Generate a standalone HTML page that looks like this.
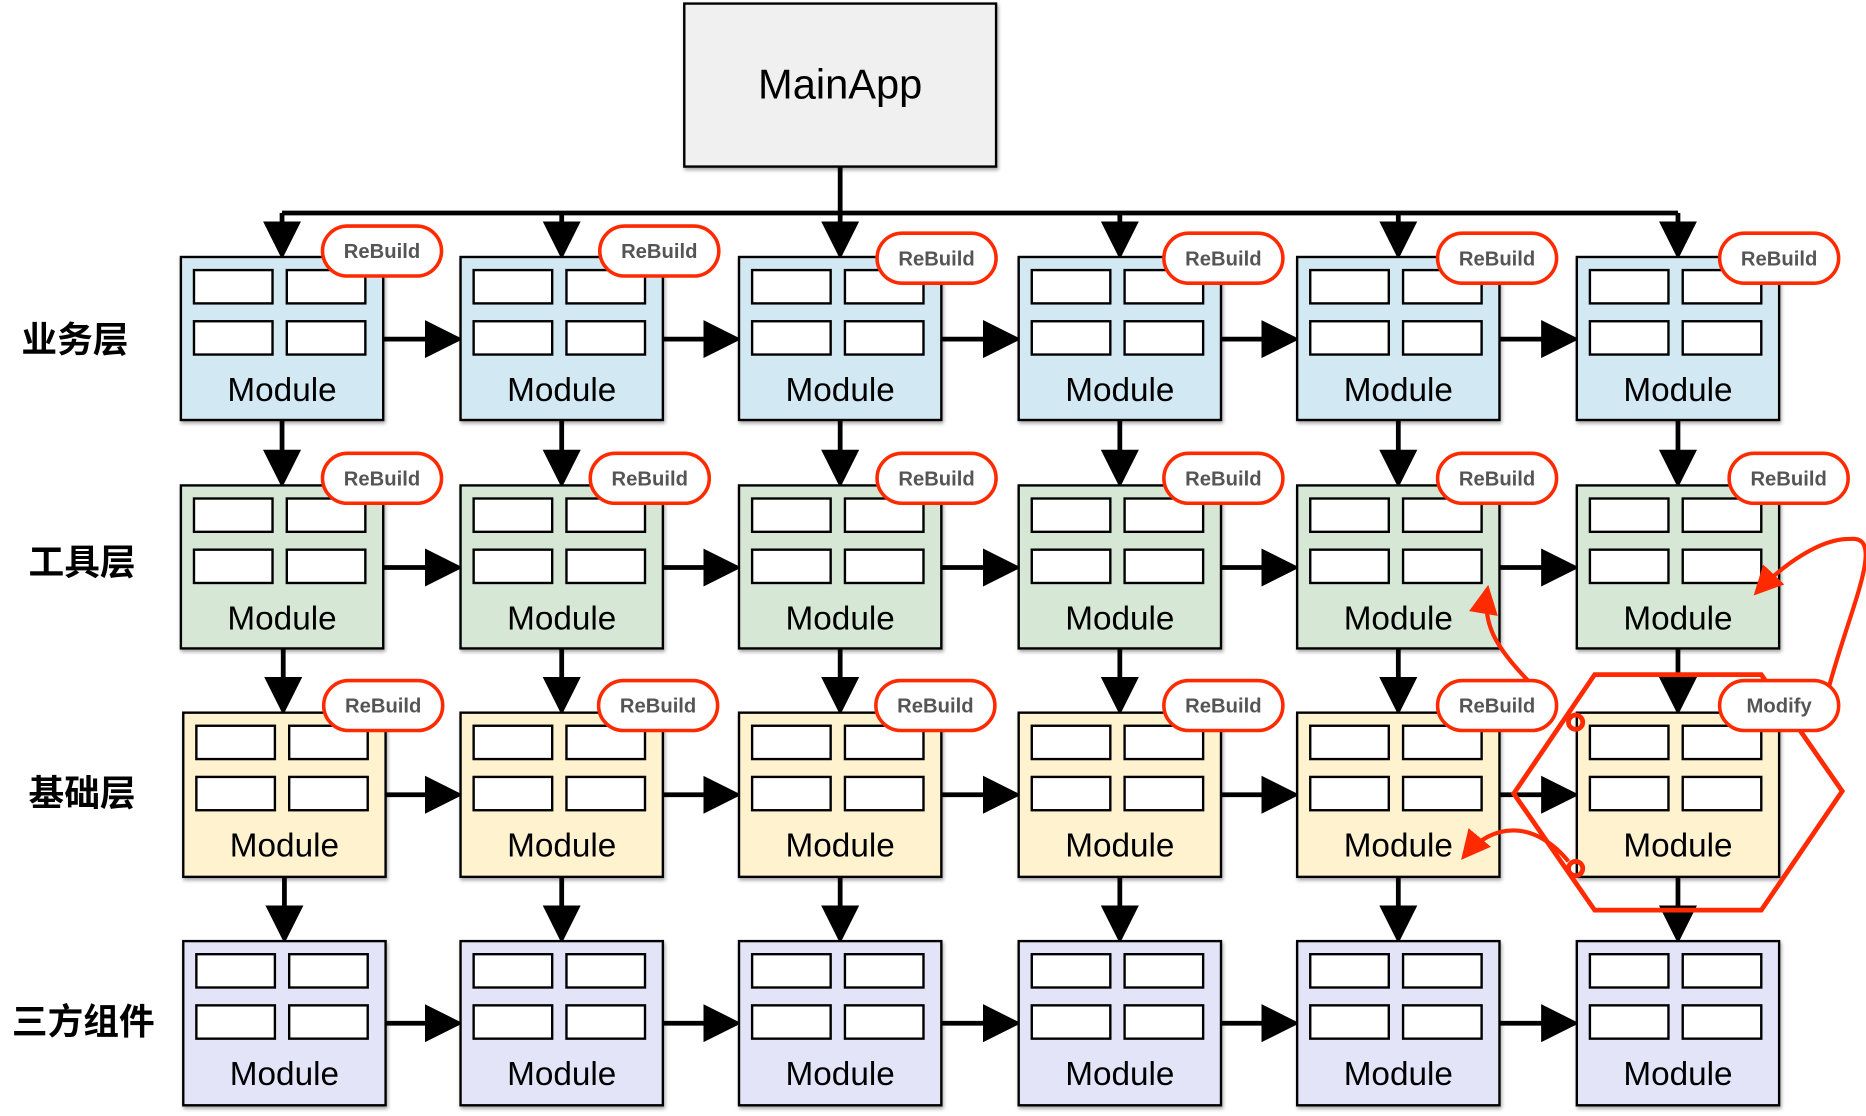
<!DOCTYPE html>
<html><head><meta charset="utf-8"><style>
html,body{margin:0;padding:0;background:#fff;}
svg{display:block;}
.m{font-family:"Liberation Sans",sans-serif;font-size:28px;fill:#000;text-anchor:middle;}
.rb{font-family:"Liberation Sans",sans-serif;font-size:17px;font-weight:bold;fill:#555;text-anchor:middle;}
.lb{font-family:"Liberation Sans","Noto Sans CJK SC",sans-serif;font-size:30px;font-weight:bold;fill:#000;}
</style></head><body>
<svg width="1866" height="1116" viewBox="0 0 1568 938" preserveAspectRatio="none">
<defs>
<marker id="ah" markerWidth="8" markerHeight="8" refX="7" refY="4" orient="auto" markerUnits="strokeWidth">
<path d="M0,0 L8,4 L0,8 z" fill="#000"/></marker>
<marker id="rh" markerWidth="7" markerHeight="7" refX="6" refY="3.5" orient="auto" markerUnits="strokeWidth">
<path d="M0,0 L7,3.5 L0,7 z" fill="#ff2a00"/></marker>
<g id="cells" fill="#fff" stroke="#000" stroke-width="2">
<rect x="11" y="11" width="66" height="28"/><rect x="89" y="11" width="66" height="28"/>
<rect x="11" y="54" width="66" height="28"/><rect x="89" y="54" width="66" height="28"/>
</g>
<filter id="sh"><feDropShadow dx="1" dy="2" stdDeviation="1.5" flood-opacity="0.35"/></filter>
</defs>

<rect x="575" y="3" width="262" height="137" fill="#f0f0f0" stroke="#000" stroke-width="2" filter="url(#sh)"/>
<text x="706" y="83" class="m" style="font-size:35px">MainApp</text>

<g stroke="#000" stroke-width="4" fill="none">
<line x1="706" y1="140" x2="706" y2="179"/>
<line x1="237" y1="179" x2="1410" y2="179"/>
<line x1="237" y1="179" x2="237" y2="214" marker-end="url(#ah)"/>
<line x1="472" y1="179" x2="472" y2="214" marker-end="url(#ah)"/>
<line x1="706" y1="179" x2="706" y2="214" marker-end="url(#ah)"/>
<line x1="941" y1="179" x2="941" y2="214" marker-end="url(#ah)"/>
<line x1="1175" y1="179" x2="1175" y2="214" marker-end="url(#ah)"/>
<line x1="1410" y1="179" x2="1410" y2="214" marker-end="url(#ah)"/>
</g>

<g stroke="#000" stroke-width="4" fill="none">
<line x1="237" y1="353" x2="237" y2="406" marker-end="url(#ah)"/>
<line x1="472" y1="353" x2="472" y2="406" marker-end="url(#ah)"/>
<line x1="706" y1="353" x2="706" y2="406" marker-end="url(#ah)"/>
<line x1="941" y1="353" x2="941" y2="406" marker-end="url(#ah)"/>
<line x1="1175" y1="353" x2="1175" y2="406" marker-end="url(#ah)"/>
<line x1="1410" y1="353" x2="1410" y2="406" marker-end="url(#ah)"/>
<line x1="238" y1="545" x2="238" y2="597" marker-end="url(#ah)"/>
<line x1="472" y1="545" x2="472" y2="597" marker-end="url(#ah)"/>
<line x1="706" y1="545" x2="706" y2="597" marker-end="url(#ah)"/>
<line x1="941" y1="545" x2="941" y2="597" marker-end="url(#ah)"/>
<line x1="1175" y1="545" x2="1175" y2="597" marker-end="url(#ah)"/>
<line x1="1410" y1="545" x2="1410" y2="597" marker-end="url(#ah)"/>
<line x1="239" y1="737" x2="239" y2="789" marker-end="url(#ah)"/>
<line x1="472" y1="737" x2="472" y2="789" marker-end="url(#ah)"/>
<line x1="706" y1="737" x2="706" y2="789" marker-end="url(#ah)"/>
<line x1="941" y1="737" x2="941" y2="789" marker-end="url(#ah)"/>
<line x1="1175" y1="737" x2="1175" y2="789" marker-end="url(#ah)"/>
<line x1="1410" y1="737" x2="1410" y2="789" marker-end="url(#ah)"/>
</g>

<g stroke="#000" stroke-width="4" fill="none">
<line x1="322" y1="285" x2="385" y2="285" marker-end="url(#ah)"/>
<line x1="557" y1="285" x2="619" y2="285" marker-end="url(#ah)"/>
<line x1="791" y1="285" x2="854" y2="285" marker-end="url(#ah)"/>
<line x1="1026" y1="285" x2="1088" y2="285" marker-end="url(#ah)"/>
<line x1="1260" y1="285" x2="1323" y2="285" marker-end="url(#ah)"/>
<line x1="322" y1="477" x2="385" y2="477" marker-end="url(#ah)"/>
<line x1="557" y1="477" x2="619" y2="477" marker-end="url(#ah)"/>
<line x1="791" y1="477" x2="854" y2="477" marker-end="url(#ah)"/>
<line x1="1026" y1="477" x2="1088" y2="477" marker-end="url(#ah)"/>
<line x1="1260" y1="477" x2="1323" y2="477" marker-end="url(#ah)"/>
<line x1="324" y1="668" x2="385" y2="668" marker-end="url(#ah)"/>
<line x1="557" y1="668" x2="619" y2="668" marker-end="url(#ah)"/>
<line x1="791" y1="668" x2="854" y2="668" marker-end="url(#ah)"/>
<line x1="1026" y1="668" x2="1088" y2="668" marker-end="url(#ah)"/>
<line x1="1260" y1="668" x2="1323" y2="668" marker-end="url(#ah)"/>
<line x1="324" y1="860" x2="385" y2="860" marker-end="url(#ah)"/>
<line x1="557" y1="860" x2="619" y2="860" marker-end="url(#ah)"/>
<line x1="791" y1="860" x2="854" y2="860" marker-end="url(#ah)"/>
<line x1="1026" y1="860" x2="1088" y2="860" marker-end="url(#ah)"/>
<line x1="1260" y1="860" x2="1323" y2="860" marker-end="url(#ah)"/>
</g>

<g stroke="#000" stroke-width="2" fill="#d2e8f2" filter="url(#sh)">
<rect x="152" y="216" width="170" height="137"/><rect x="387" y="216" width="170" height="137"/>
<rect x="621" y="216" width="170" height="137"/><rect x="856" y="216" width="170" height="137"/>
<rect x="1090" y="216" width="170" height="137"/><rect x="1325" y="216" width="170" height="137"/>
</g>
<g stroke="#000" stroke-width="2" fill="#d6e8d5" filter="url(#sh)">
<rect x="152" y="408" width="170" height="137"/><rect x="387" y="408" width="170" height="137"/>
<rect x="621" y="408" width="170" height="137"/><rect x="856" y="408" width="170" height="137"/>
<rect x="1090" y="408" width="170" height="137"/><rect x="1325" y="408" width="170" height="137"/>
</g>
<g stroke="#000" stroke-width="2" fill="#fff2cf" filter="url(#sh)">
<rect x="154" y="599" width="170" height="138"/><rect x="387" y="599" width="170" height="138"/>
<rect x="621" y="599" width="170" height="138"/><rect x="856" y="599" width="170" height="138"/>
<rect x="1090" y="599" width="170" height="138"/><rect x="1325" y="599" width="170" height="138"/>
</g>
<g stroke="#000" stroke-width="2" fill="#e3e4f8" filter="url(#sh)">
<rect x="154" y="791" width="170" height="138"/><rect x="387" y="791" width="170" height="138"/>
<rect x="621" y="791" width="170" height="138"/><rect x="856" y="791" width="170" height="138"/>
<rect x="1090" y="791" width="170" height="138"/><rect x="1325" y="791" width="170" height="138"/>
</g>

<use href="#cells" x="152" y="216"/><use href="#cells" x="387" y="216"/><use href="#cells" x="621" y="216"/>
<use href="#cells" x="856" y="216"/><use href="#cells" x="1090" y="216"/><use href="#cells" x="1325" y="216"/>
<use href="#cells" x="152" y="408"/><use href="#cells" x="387" y="408"/><use href="#cells" x="621" y="408"/>
<use href="#cells" x="856" y="408"/><use href="#cells" x="1090" y="408"/><use href="#cells" x="1325" y="408"/>
<use href="#cells" x="154" y="599"/><use href="#cells" x="387" y="599"/><use href="#cells" x="621" y="599"/>
<use href="#cells" x="856" y="599"/><use href="#cells" x="1090" y="599"/><use href="#cells" x="1325" y="599"/>
<use href="#cells" x="154" y="791"/><use href="#cells" x="387" y="791"/><use href="#cells" x="621" y="791"/>
<use href="#cells" x="856" y="791"/><use href="#cells" x="1090" y="791"/><use href="#cells" x="1325" y="791"/>

<text class="m" x="237" y="337">Module</text><text class="m" x="472" y="337">Module</text><text class="m" x="706" y="337">Module</text>
<text class="m" x="941" y="337">Module</text><text class="m" x="1175" y="337">Module</text><text class="m" x="1410" y="337">Module</text>
<text class="m" x="237" y="529">Module</text><text class="m" x="472" y="529">Module</text><text class="m" x="706" y="529">Module</text>
<text class="m" x="941" y="529">Module</text><text class="m" x="1175" y="529">Module</text><text class="m" x="1410" y="529">Module</text>
<text class="m" x="239" y="720">Module</text><text class="m" x="472" y="720">Module</text><text class="m" x="706" y="720">Module</text>
<text class="m" x="941" y="720">Module</text><text class="m" x="1175" y="720">Module</text><text class="m" x="1410" y="720">Module</text>
<text class="m" x="239" y="912">Module</text><text class="m" x="472" y="912">Module</text><text class="m" x="706" y="912">Module</text>
<text class="m" x="941" y="912">Module</text><text class="m" x="1175" y="912">Module</text><text class="m" x="1410" y="912">Module</text>

<text class="lb" x="18" y="296">业务层</text>
<text class="lb" x="24" y="483">工具层</text>
<text class="lb" x="24" y="677">基础层</text>
<text class="lb" x="10" y="869">三方组件</text>

<g stroke="#ff2a00" stroke-width="4" fill="none">
<polygon points="1340,567 1480,567 1548,665 1480,765 1340,765 1272,667"/>
<circle cx="1324" cy="607" r="6"/>
<circle cx="1324" cy="730" r="6"/>
<path d="M1537,577 C1555,510 1585,450 1555,453 C1530,452 1498,475 1476,498" marker-end="url(#rh)" stroke-width="3.5"/>
<path d="M1284,572 C1258,545 1245,525 1250,495" marker-end="url(#rh)" stroke-width="3.5"/>
<path d="M1318,724 C1290,690 1255,690 1230,720" marker-end="url(#rh)" stroke-width="3.5"/>
</g>

<g fill="#fff" stroke="#ff2a00" stroke-width="3">
<rect x="271" y="190" width="100" height="42" rx="21"/><rect x="504" y="190" width="100" height="42" rx="21"/>
<rect x="737" y="196" width="100" height="42" rx="21"/><rect x="978" y="196" width="100" height="42" rx="21"/>
<rect x="1208" y="196" width="100" height="42" rx="21"/><rect x="1445" y="196" width="100" height="42" rx="21"/>
<rect x="271" y="381" width="100" height="42" rx="21"/><rect x="496" y="381" width="100" height="42" rx="21"/>
<rect x="737" y="381" width="100" height="42" rx="21"/><rect x="978" y="381" width="100" height="42" rx="21"/>
<rect x="1208" y="381" width="100" height="42" rx="21"/><rect x="1453" y="381" width="100" height="42" rx="21"/>
<rect x="272" y="572" width="100" height="42" rx="21"/><rect x="503" y="572" width="100" height="42" rx="21"/>
<rect x="736" y="572" width="100" height="42" rx="21"/><rect x="978" y="572" width="100" height="42" rx="21"/>
<rect x="1208" y="572" width="100" height="42" rx="21"/><rect x="1445" y="572" width="100" height="42" rx="21"/>
</g>
<text class="rb" x="321" y="217">ReBuild</text><text class="rb" x="554" y="217">ReBuild</text>
<text class="rb" x="787" y="223">ReBuild</text><text class="rb" x="1028" y="223">ReBuild</text>
<text class="rb" x="1258" y="223">ReBuild</text><text class="rb" x="1495" y="223">ReBuild</text>
<text class="rb" x="321" y="408">ReBuild</text><text class="rb" x="546" y="408">ReBuild</text>
<text class="rb" x="787" y="408">ReBuild</text><text class="rb" x="1028" y="408">ReBuild</text>
<text class="rb" x="1258" y="408">ReBuild</text><text class="rb" x="1503" y="408">ReBuild</text>
<text class="rb" x="322" y="599">ReBuild</text><text class="rb" x="553" y="599">ReBuild</text>
<text class="rb" x="786" y="599">ReBuild</text><text class="rb" x="1028" y="599">ReBuild</text>
<text class="rb" x="1258" y="599">ReBuild</text><text class="rb" x="1495" y="599">Modify</text>
</svg>
</body></html>
